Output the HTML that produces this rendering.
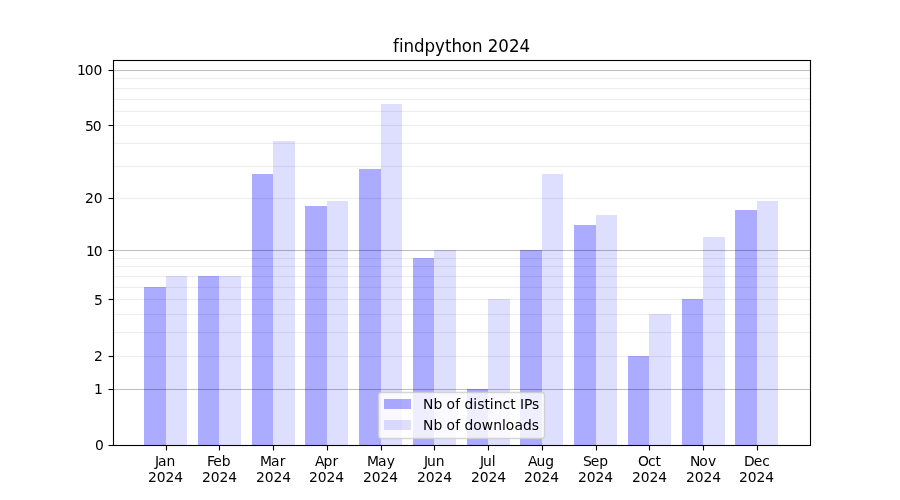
<!DOCTYPE html>
<html lang="en">
<head>
<meta charset="utf-8">
<title>findpython 2024</title>
<style>
html,body{margin:0;padding:0;background:#fff;}
body{width:900px;height:500px;overflow:hidden;}
svg{display:block;}
text{font-family:"DejaVu Sans","Liberation Sans",sans-serif;fill:#000;font-variant-ligatures:none;font-feature-settings:"liga" 0,"clig" 0;font-kerning:normal;}
.t10{font-size:13.889px;}
.t12{font-size:16.667px;}
.bar1{fill:rgba(0,0,255,0.33);}
.bar2{fill:rgba(0,0,255,0.13);}
.gmaj{fill:rgba(0,0,0,0.25);}
.gmin{fill:rgba(0,0,0,0.07);}
.ax{stroke:#000;stroke-width:1.111;fill:none;}
</style>
</head>
<body>
<svg width="900" height="500" viewBox="0 0 900 500">
<rect x="0" y="0" width="900" height="500" fill="#fff"/>

<g shape-rendering="crispEdges">
<rect class="bar1" x="144" y="287" width="22" height="158"/>
<rect class="bar2" x="166" y="276" width="21" height="169"/>
<rect class="bar1" x="198" y="276" width="21" height="169"/>
<rect class="bar2" x="219" y="276" width="22" height="169"/>
<rect class="bar1" x="252" y="174" width="21" height="271"/>
<rect class="bar2" x="273" y="141" width="22" height="304"/>
<rect class="bar1" x="305" y="206" width="22" height="239"/>
<rect class="bar2" x="327" y="201" width="21" height="244"/>
<rect class="bar1" x="359" y="169" width="22" height="276"/>
<rect class="bar2" x="381" y="104" width="21" height="341"/>
<rect class="bar1" x="413" y="258" width="21" height="187"/>
<rect class="bar2" x="434" y="250" width="22" height="195"/>
<rect class="bar1" x="467" y="389" width="21" height="56"/>
<rect class="bar2" x="488" y="299" width="22" height="146"/>
<rect class="bar1" x="520" y="250" width="22" height="195"/>
<rect class="bar2" x="542" y="174" width="21" height="271"/>
<rect class="bar1" x="574" y="225" width="22" height="220"/>
<rect class="bar2" x="596" y="215" width="21" height="230"/>
<rect class="bar1" x="628" y="356" width="21" height="89"/>
<rect class="bar2" x="649" y="314" width="22" height="131"/>
<rect class="bar1" x="682" y="299" width="21" height="146"/>
<rect class="bar2" x="703" y="237" width="22" height="208"/>
<rect class="bar1" x="735" y="210" width="22" height="235"/>
<rect class="bar2" x="757" y="201" width="21" height="244"/>
</g>
<g>
<rect class="gmaj" x="112.5" y="388.9445" width="697.5" height="1.111"/>
<rect class="gmaj" x="112.5" y="249.9445" width="697.5" height="1.111"/>
<rect class="gmaj" x="112.5" y="69.9445" width="697.5" height="1.111"/>
<rect class="gmin" x="112.5" y="355.9445" width="697.5" height="1.111"/>
<rect class="gmin" x="112.5" y="331.9445" width="697.5" height="1.111"/>
<rect class="gmin" x="112.5" y="313.9445" width="697.5" height="1.111"/>
<rect class="gmin" x="112.5" y="298.9445" width="697.5" height="1.111"/>
<rect class="gmin" x="112.5" y="286.9445" width="697.5" height="1.111"/>
<rect class="gmin" x="112.5" y="275.9445" width="697.5" height="1.111"/>
<rect class="gmin" x="112.5" y="265.9445" width="697.5" height="1.111"/>
<rect class="gmin" x="112.5" y="257.9445" width="697.5" height="1.111"/>
<rect class="gmin" x="112.5" y="197.9445" width="697.5" height="1.111"/>
<rect class="gmin" x="112.5" y="165.9445" width="697.5" height="1.111"/>
<rect class="gmin" x="112.5" y="142.9445" width="697.5" height="1.111"/>
<rect class="gmin" x="112.5" y="124.9445" width="697.5" height="1.111"/>
<rect class="gmin" x="112.5" y="110.9445" width="697.5" height="1.111"/>
<rect class="gmin" x="112.5" y="98.9445" width="697.5" height="1.111"/>
<rect class="gmin" x="112.5" y="87.9445" width="697.5" height="1.111"/>
<rect class="gmin" x="112.5" y="77.9445" width="697.5" height="1.111"/>
</g>
<g>
<line class="ax" x1="108.5" x2="113" y1="445.5" y2="445.5"/>
<line class="ax" x1="108.5" x2="113" y1="389.5" y2="389.5"/>
<line class="ax" x1="108.5" x2="113" y1="356.5" y2="356.5"/>
<line class="ax" x1="108.5" x2="113" y1="299.5" y2="299.5"/>
<line class="ax" x1="108.5" x2="113" y1="250.5" y2="250.5"/>
<line class="ax" x1="108.5" x2="113" y1="198.5" y2="198.5"/>
<line class="ax" x1="108.5" x2="113" y1="125.5" y2="125.5"/>
<line class="ax" x1="108.5" x2="113" y1="70.5" y2="70.5"/>
<line class="ax" x1="166.5" x2="166.5" y1="445.5" y2="450.5"/>
<line class="ax" x1="219.5" x2="219.5" y1="445.5" y2="450.5"/>
<line class="ax" x1="273.5" x2="273.5" y1="445.5" y2="450.5"/>
<line class="ax" x1="327.5" x2="327.5" y1="445.5" y2="450.5"/>
<line class="ax" x1="381.5" x2="381.5" y1="445.5" y2="450.5"/>
<line class="ax" x1="434.5" x2="434.5" y1="445.5" y2="450.5"/>
<line class="ax" x1="488.5" x2="488.5" y1="445.5" y2="450.5"/>
<line class="ax" x1="542.5" x2="542.5" y1="445.5" y2="450.5"/>
<line class="ax" x1="596.5" x2="596.5" y1="445.5" y2="450.5"/>
<line class="ax" x1="649.5" x2="649.5" y1="445.5" y2="450.5"/>
<line class="ax" x1="703.5" x2="703.5" y1="445.5" y2="450.5"/>
<line class="ax" x1="757.5" x2="757.5" y1="445.5" y2="450.5"/>
</g>
<g>
<rect x="378.5" y="392.5" width="166" height="46" rx="2.78" ry="2.78" fill="rgba(255,255,255,0.8)" stroke="rgba(204,204,204,0.8)" stroke-width="1.389"/>
<g shape-rendering="crispEdges"><rect class="bar1" x="384" y="399" width="27" height="10"/><rect class="bar2" x="384" y="420" width="27" height="10"/></g>
<text class="t10" id="tl1" x="422.94 433.44 441.74 446.41 455.15 459.54 464.44 473.13 477.23 484.46 489.65 493.63 502.43 510.18 514.99 519.90 523.99 531.99" y="409">Nb of distinct IPs</text>
<text class="t10" id="tl2" x="422.94 433.44 441.74 446.41 455.15 459.54 464.44 473.13 481.74 493.21 501.88 505.74 514.48 522.98 531.66" y="430">Nb of downloads</text>
</g>
<rect class="ax" x="113.5" y="60.5" width="697" height="385"/>
<g class="t10">
<text id="ty0" x="94.95" y="450">0</text>
<text id="ty1" x="93.95" y="394">1</text>
<text id="ty2" x="93.95" y="361">2</text>
<text id="ty5" x="93.95" y="305">5</text>
<text id="ty10" x="86.00 93.69" y="256">10</text>
<text id="ty20" x="85.00 93.69" y="203">20</text>
<text id="ty50" x="85.00 92.69" y="131">50</text>
<text id="ty100" x="76.92 84.73 93.44" y="75">100</text>
<text id="tm0" x="154.88 157.96 166.47" y="466">Jan</text>
<text id="tr0" x="147.92 156.73 165.43 174.14" y="482">2024</text>
<text id="tm1" x="206.90 213.25 221.65" y="466">Feb</text>
<text id="tr1" x="201.91 210.72 219.42 228.13" y="482">2024</text>
<text id="tm2" x="259.95 270.92 279.67" y="466">Mar</text>
<text id="tr2" x="255.89 264.70 273.40 282.23" y="482">2024</text>
<text id="tm3" x="314.90 323.39 332.45" y="466">Apr</text>
<text id="tr3" x="308.88 317.69 326.39 335.22" y="482">2024</text>
<text id="tm4" x="366.93 377.90 386.65" y="466">May</text>
<text id="tr4" x="362.99 371.68 380.38 389.21" y="482">2024</text>
<text id="tm5" x="423.91 426.99 435.66" y="466">Jun</text>
<text id="tr5" x="416.97 425.66 434.49 443.19" y="482">2024</text>
<text id="tm6" x="480.00 482.95 491.75" y="466">Jul</text>
<text id="tr6" x="470.96 479.65 488.48 497.18" y="482">2024</text>
<text id="tm7" x="527.93 536.41 545.21" y="466">Aug</text>
<text id="tr7" x="523.94 532.63 541.46 550.16" y="482">2024</text>
<text id="tm8" x="582.89 590.68 599.23" y="466">Sep</text>
<text id="tr8" x="577.93 586.75 595.45 604.15" y="482">2024</text>
<text id="tm9" x="637.96 647.99 655.38" y="466">Oct</text>
<text id="tr9" x="631.92 640.74 649.44 658.14" y="482">2024</text>
<text id="tm10" x="689.89 699.14 708.00" y="466">Nov</text>
<text id="tr10" x="685.90 694.72 703.42 712.25" y="482">2024</text>
<text id="tm11" x="744.00 753.67 762.21" y="466">Dec</text>
<text id="tr11" x="738.89 747.71 756.41 765.24" y="482">2024</text>
</g>
<text class="t12" id="tt" transform="translate(461.25 52) scale(1 1.1)" x="-68.31 -62.33 -57.82 -47.27 -36.81 -26.36 -16.37 -9.84 0.47 10.66 21.10 26.39 36.88 47.73 58.20" y="0">findpython 2024</text>
</svg>
</body>
</html>
